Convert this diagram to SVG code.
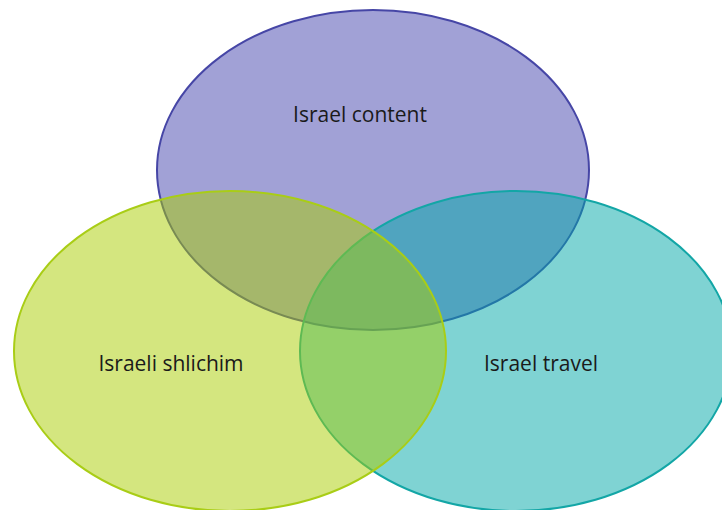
<svg xmlns="http://www.w3.org/2000/svg" width="722" height="510" viewBox="0 0 722 510">
  <style>
    .lbl { font-family: "Open Sans", "Liberation Sans", sans-serif; font-size: 21px; fill: #1a1a1a; text-anchor: middle; }
    .ell { stroke-width: 2; }
  </style>
  <rect width="722" height="510" fill="#ffffff"/>
  <g id="israel-content">
    <ellipse class="ell" cx="373" cy="170" rx="216" ry="160" fill="rgba(67,67,173,0.5)" stroke="#4646a6"/>
  </g>
  <g id="israel-travel">
    <ellipse class="ell" cx="516" cy="351" rx="216" ry="160" fill="rgba(0,167,167,0.5)" stroke="#13a6a6"/>
  </g>
  <g id="israeli-shlichim">
    <ellipse class="ell" cx="230" cy="351" rx="216" ry="160" fill="rgba(169,205,0,0.5)" stroke="#a9cd16"/>
  </g>
  <g id="labels">
    <text class="lbl" x="360" y="122">Israel content</text>
    <text class="lbl" x="171" y="371">Israeli shlichim</text>
    <text class="lbl" x="541" y="371">Israel travel</text>
  </g>
  <g id="connectors"/>
</svg>
